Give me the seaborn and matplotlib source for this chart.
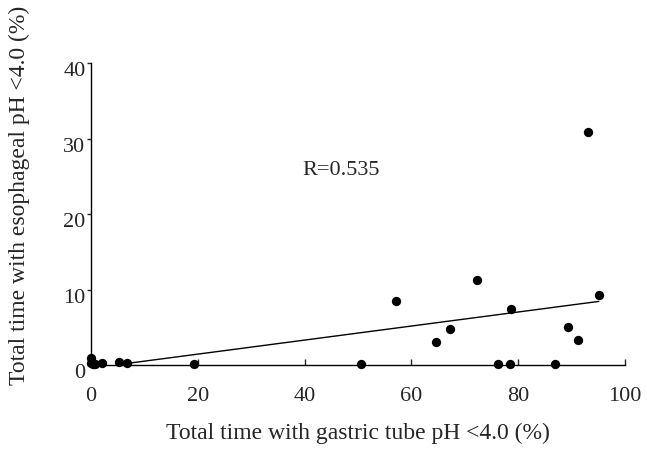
import matplotlib
matplotlib.use("Agg")
import matplotlib.pyplot as plt
import matplotlib.transforms as mtransforms
import seaborn as sns
import pandas as pd
import numpy as np

# Data
gastric_ph = [0.0, 0.0, 0.3, 0.8, 2.0, 5.2, 6.7, 19.3, 50.5, 57.1, 64.7, 67.2,
              72.2, 76.3, 78.5, 78.7, 86.9, 89.3, 91.2, 93.1, 95.1]
esophageal_ph = [0.9, 0.2, 0.1, 0.1, 0.3, 0.4, 0.2, 0.1, 0.1, 8.5, 3.1, 4.8,
                 11.3, 0.1, 0.1, 7.4, 0.1, 5.0, 3.3, 30.9, 9.3]
fit_x = [6.7, 95.1]
fit_slope = 0.093
fit_intercept = -0.42
x_ticks = [0, 20, 40, 60, 80, 100]
y_ticks = [0, 10, 20, 30, 40]
annotation = "R=0.535"

sns.set_style("white")
plt.rcParams["font.family"] = ["Liberation Serif", "DejaVu Serif"]

df = pd.DataFrame({"x": gastric_ph, "y": esophageal_ph})

fig = plt.figure(figsize=(6.47, 4.55), dpi=100)
ax = fig.add_axes([91/647, 1 - 365/455, (625 - 91)/647, (365 - 63)/455])

sns.scatterplot(data=df, x="x", y="y", ax=ax, color="black", s=45,
                edgecolor="black", linewidth=0, clip_on=False, zorder=3)

fx = np.array(fit_x)
ax.plot(fx, fit_slope * fx + fit_intercept, color="black", lw=1.0, zorder=2)

ax.set_xlim(0, 100)
ax.set_ylim(0, 40)
ax.set_xticks(x_ticks)
ax.set_yticks(y_ticks)
ax.tick_params(axis="x", direction="in", length=4, width=1, labelsize=16, pad=16)
ax.tick_params(axis="y", direction="out", length=3, width=1, labelsize=16, pad=1)
ax.tick_params(bottom=True, left=True)

# y tick labels sit slightly below their ticks in the reference
offset = mtransforms.ScaledTranslation(0, -4.5/72, fig.dpi_scale_trans)
for lbl in ax.get_yticklabels():
    lbl.set_transform(lbl.get_transform() + offset)

for side in ["top", "right"]:
    ax.spines[side].set_visible(False)
for side in ["left", "bottom"]:
    ax.spines[side].set_color("black")
    ax.spines[side].set_linewidth(1)

ax.set_xlabel("Total time with gastric tube pH <4.0 (%)", fontsize=17, labelpad=12)
ax.set_ylabel("Total time with esophageal pH <4.0 (%)", fontsize=17, va="center")
ax.yaxis.set_label_coords(-0.135, 0.563)

ax.text(46.9, 25.8, annotation, fontsize=16, ha="center", va="center")

fig.savefig("out.png", dpi=100)
